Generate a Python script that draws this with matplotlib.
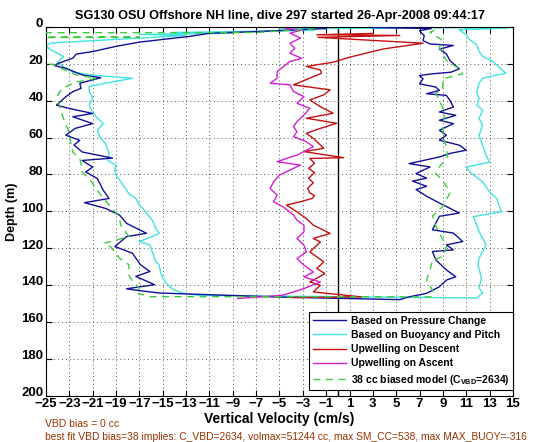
import matplotlib
matplotlib.use("Agg")
import matplotlib.pyplot as plt
from matplotlib.transforms import ScaledTranslation

plt.rcParams['font.family'] = ['Liberation Sans', 'DejaVu Sans']
plt.rcParams['mathtext.fontset'] = 'custom'
plt.rcParams['mathtext.rm'] = 'Liberation Sans'
plt.rcParams['mathtext.bf'] = 'Liberation Sans:bold'

# ---------------- data (velocity cm/s, depth m) ----------------
# Based on Pressure Change: descent then ascent (ascent listed bottom -> top)
blue_vel = [-1.0, -7, -11, -12.7, -17, -19, -21, -22.4, -22.7, -23.9, -24.3, -23.3, -21.9, -20.3,
            -22.1, -22, -22.7, -23.3, -24.1, -23, -21, -22.7, -21, -22.5, -23.3, -22.1, -22.6, -21.9,
            -19.3, -21.9, -21, -21.6, -20.6, -20.1, -19.6, -21.7, -19.9, -18.7, -18.1, -16.4,
            -18.1, -19.1, -17.6, -16.9, -16.1, -17.3, -15.7, -18.1, -17, -15.3, -5,
            5.3, 6.1, 7.6, 8.7, 9.3, 10.1, 9.3, 8.4, 8.1, 9.9, 9.3, 10.7, 9.9, 8.1, 8.7, 10.4, 8.7,
            7.6, 6.7, 7.6, 6.4, 7.6, 6.7, 7.9, 6.1, 8.7, 9.6, 11, 10.4, 8.7, 9.3, 8.7, 9.9, 8.7,
            10.1, 8.7, 9.9, 9.6, 9.3, 7.6, 8.7, 8.4, 7, 7.3, 7, 8.1, 9.7, 10.4, 9.6, 9.3, 8.7,
            9.9, 7.9, 7.3, 7.4, 7, 8, 3]
blue_depth = [0.8, 2.5, 3.4, 5.1, 8.2, 10.5, 13.3, 14.7, 16.9, 19.6, 20.9, 22.4, 26, 27.5,
              30.5, 33.3, 35.1, 37.8, 42.4, 44.2, 46.9, 48.7, 52.4, 55, 58.7, 61.5, 64, 67.8,
              71.1, 72.4, 76, 78.6, 82.2, 88.5, 93, 95.3, 98.4, 102, 106.5, 111.9,
              113.7, 119.1, 122.7, 129, 132.6, 135.3, 139.8, 142, 143, 144.3, 146.5,
              147.9, 146.4, 144.5, 140.9, 137.3, 135.5, 131.8, 126.4, 121.8, 120.9, 118.2, 116.4,
              111.8, 110, 102.7, 100.9, 95.5, 91.8, 88.2, 86.4, 83.6, 82, 79.5, 75.9, 74.1, 70.5,
              68.6, 66.8, 64.1, 61.4, 58.7, 56, 52.4, 50.6, 47.9, 46.1, 43.4, 39.8, 37.1, 36.2,
              34.4, 32.6, 30.8, 28.1, 26.3, 25.4, 24.5, 22.7, 18.2, 14.6, 12, 10, 9.2, 7.4, 4.7,
              2, 0.8, 0.3]

# Based on Buoyancy and Pitch
cyan_vel = [13, -5, -2, -14, -9, -17, -13, -24.6, -25, -24.7, -23.5, -24, -23.5, -22.7, -20.7,
            -17.6, -19.9, -21.3, -21.3, -21, -21.3, -21.1, -20.7, -20.1, -20.6, -20.4, -19.9,
            -19.6, -19.7, -19, -19.1, -19, -18.7, -18.4, -18.1, -17.9, -17.3, -17, -16.7, -16.4,
            -15.9, -15.6, -15.3, -15.9, -17, -16.1, -15.9, -15.6, -15.3, -15.2, -15, -14.7,
            -14.1, -13.3, -11.9,
            11.9, 12.4, 12.1, 12.3, 12, 12.1, 12.4, 12.7, 12.1, 11.9, 11.6, 12.4, 14, 13.9, 13.6,
            13, 12.4, 11.3, 11, 13, 12.7, 12.4, 12.1, 12.4, 12.1, 12.4, 11.9, 12.1, 11.9, 12.1,
            12.4, 13.6, 14.4, 13.9, 13.3, 12.4, 12.1, 11.9, 11.3, 11, 10.4, 14.5]
cyan_depth = [0.3, 0.9, 1.8, 3.0, 3.4, 4.0, 4.6, 8.7, 10, 12, 16, 19, 21.5, 24.5, 26.3,
              27.8, 30.5, 32.3, 35, 38.7, 42.4, 45.1, 48.7, 52.4, 56, 59.6, 63.2,
              68.6, 72.4, 75, 77.7, 80.4, 83, 85.8, 88.5, 90.3, 93, 96.6, 98.4, 101.1,
              104.7, 109.2, 111.9, 113.7, 116.4, 118.2, 121.8, 127.2, 129, 132.6, 136.2, 138.9,
              142.5, 144.3, 145.6,
              147, 144.3, 141.6, 136.2, 129, 125.4, 121.8, 118.2, 111, 107.4, 102.9, 102, 100.2,
              98.4, 93, 89.4, 84, 78.6, 76, 73.3, 69.6, 64.2, 58.7, 53.3, 49.6, 45.1, 42.4, 38.7,
              35.1, 30.5, 27.8, 26, 25.1, 22.4, 18.7, 16, 13.3, 9.6, 6.9, 4.2, 1.5, 0.6]

# Upwelling on Descent
red_vel = [3, -1.8, 5.3, -1.7, 7.3, 3.9, 1, -0.4, -2.7, -1.5, -1.4, -3.8, -0.66, -1.2, -2.4,
           -1.5, -0.4, -2.7, -0.1, -1.5, -2.7, -2.1, -1.2, -2.9, 0.5, -2.4, -2.0, -2.5, -2.0,
           -2.5, -2.1, -2.6, -2.4, -2.0, -2.2, -3.2, -4.4, -3.5, -2.7, -2.1, -0.66, -2.1, -1.5,
           -2.4, -1.2, -1.8, -1.1, -2.4, -1.5, -2.1, 2, -4]
red_depth = [3.5, 4.2, 4.6, 5.6, 8.8, 11.9, 16.4, 19.1, 21.4, 23.3, 25.1, 31.4, 34.1, 36.8, 39.6,
             43.2, 46.8, 49.5, 52.2, 55, 57.7, 60.4, 65.8, 67.6, 70.9, 71.3, 74, 76.7, 79,
             82.1, 84.5, 87.6, 90, 91.5, 93, 94.8, 96.6, 100.3, 103.9, 107.5, 112, 114.7, 116.6,
             122, 127.4, 131, 133.8, 138.3, 140.1, 143.7, 146.4, 146.8]

# Upwelling on Ascent (bottom -> top)
mag_vel = [-8.6, -4.7, -2.9, -1.5, -2.9, -2.1, -2.9, -3.5, -2.7, -2.9, -3.5, -2.9, -2.9, -3.5,
           -3.8, -4.7, -5.5, -5.2, -5.8, -5.5, -5.0, -4.1, -3.2, -5.2, -4.4, -3.5, -2.1, -2.7,
           -3.8, -3.5, -3.8, -3.5, -2.9, -2.4, -3.5, -2.9, -3.8, -4.1, -5.8, -5.2, -5.2, -4.1,
           -3.1, -4.1, -3.7, -4.1, -3.2, -4.1, -3.0, -4.5]
mag_depth = [147.3, 145.5, 141.9, 138.3, 135.6, 132.9, 129.2, 125.6, 122, 118.4, 114.7, 111.1,
             107.5, 104.8, 102, 97.5, 94.8, 91.2, 87.6, 84, 80.3, 77.6, 74.9, 73.1, 71.3, 69.5,
             64.9, 62.2, 59.5, 56.8, 54.1, 51.3, 47.7, 44.1, 41.4, 37.8, 35, 31.4, 30.5, 27.8,
             24.2, 18.7, 17, 14.2, 11.5, 8.8, 6, 3.3, 1.5, 0.8]

# 38 cc biased model
green_vel = [-2, -7, -45, -45, -17, -45, -45, -24.4, -23.5, -22.4, -20.7, -22.5, -23.6, -24,
             -23.9, -23.7, -23.4, -23, -22.9, -22.7, -22.1, -21.9, -21.9, -21.1, -20.6, -20.1,
             -19.3, -18.7, -18.6, -17.9, -20, -19.5, -18.7, -17.9, -17.9, -17.6, -17, -17.3, -16,
             8.1, 8.1, 7.6, 7.9, 8.1, 9, 9.3, 9, 8.4, 8.1, 9, 9.3, 9.6, 9.3, 9, 8.4, 8.7, 9.4,
             9.3, 9, 9, 9.1, 9, 8.7, 8.4, 9, 9, 10.7, 10.4, 9.3, 9, 8.7, 9, 7.9, 8.5]
green_depth = [1.0, 3.0, 3.2, 5.2, 5.5, 6.3, 19.8, 20.2, 23, 26, 27.8, 30, 33.3, 37,
               41, 46, 51.5, 56.9, 62, 67.8, 71.5, 76.9, 78.6, 84, 88.5, 93,
               98.4, 103.8, 107.4, 113.7, 117.3, 119, 125.4, 129, 134.4, 138, 141.6, 144.3, 146.3,
               146.4, 142.7, 137.3, 131.8, 126.4, 124.5, 119.1, 115.5, 108.2, 102.7, 97.3, 93.6,
               90, 86.4, 83.6, 79.5, 75.9, 70.5, 65, 59.6, 54.2, 48.8, 44.3, 39.8, 36.2, 32.6,
               28.1, 25.4, 22.7, 18.2, 14.6, 11, 7.4, 2.9, 1.0]

x_ticks = list(range(-25, 16, 2))
y_ticks = list(range(0, 201, 20))

title = "SG130 OSU Offshore NH line, dive 297 started 26-Apr-2008 09:44:17"
labels = ["Based on Pressure Change", "Based on Buoyancy and Pitch", "Upwelling on Descent",
          "Upwelling on Ascent", r"38 cc biased model (C$_{\mathbf{VBD}}$=2634)"]
note1 = "VBD bias = 0 cc"
note2 = ("best fit VBD bias=38 implies: C_VBD=2634, volmax=51244 cc, max SM_CC=538, "
         "max MAX_BUOY=-316")

# ---------------- figure ----------------
fig = plt.figure(figsize=(5.6, 4.42), dpi=100)
ax = fig.add_axes([0.0821, 0.1048, 0.8339, 0.8341])

lw = 1.0
ax.plot(blue_vel, blue_depth, color='#10109a', lw=lw, label=labels[0], zorder=3)
ax.plot(cyan_vel, cyan_depth, color='#3fe3e3', lw=lw, label=labels[1], zorder=2)
ax.plot(red_vel, red_depth, color='#c41010', lw=lw, label=labels[2], zorder=3)
ax.plot(mag_vel, mag_depth, color='#d21fd2', lw=lw, label=labels[3], zorder=3)
ax.plot(green_vel, green_depth, color='#3ccc3c', lw=lw, ls=(0, (5, 4)), label=labels[4], zorder=4)
ax.axvline(0, color='black', lw=1.0, zorder=1)

ax.set_xlim(-25, 15)
ax.set_ylim(200, 0)
ax.set_xticks(x_ticks)
ax.set_yticks(y_ticks)
ax.tick_params(direction='in', top=True, right=True, length=4, width=0.8, labelsize=9.5, pad=2)
for lbl in ax.get_xticklabels() + ax.get_yticklabels():
    lbl.set_fontweight('bold')
# lift y tick labels slightly (as in the reference)
up = ScaledTranslation(0, 3 / 72, fig.dpi_scale_trans)
for lbl in ax.get_yticklabels():
    lbl.set_transform(lbl.get_transform() + up)
ax.grid(True, ls=(0, (1, 3)), color='#555555', lw=0.7)
for s in ax.spines.values():
    s.set_linewidth(0.8)

ax.set_title(title, fontsize=9.2, fontweight='bold', pad=6)
ax.set_xlabel("Vertical Velocity (cm/s)", fontsize=10, fontweight='bold', labelpad=1)
ax.set_ylabel("Depth (m)", fontsize=9, fontweight='bold', labelpad=2)

leg = ax.legend(loc='lower right', bbox_to_anchor=(1.0, 0.015), borderaxespad=0,
                prop={'size': 7.5, 'weight': 'bold'}, handlelength=3.2, handletextpad=0.4,
                labelspacing=0.4, borderpad=0.35, frameon=True, fancybox=False,
                framealpha=1, edgecolor='black')
leg.get_frame().set_linewidth(0.8)

fig.text(45 / 560, 1 - 424 / 442, note1, fontsize=7.5, color='#993300', va='center', ha='left')
fig.text(45 / 560, 1 - 437 / 442, note2, fontsize=7.4, color='#993300', va='center', ha='left')

fig.savefig('out.png', dpi=100)
